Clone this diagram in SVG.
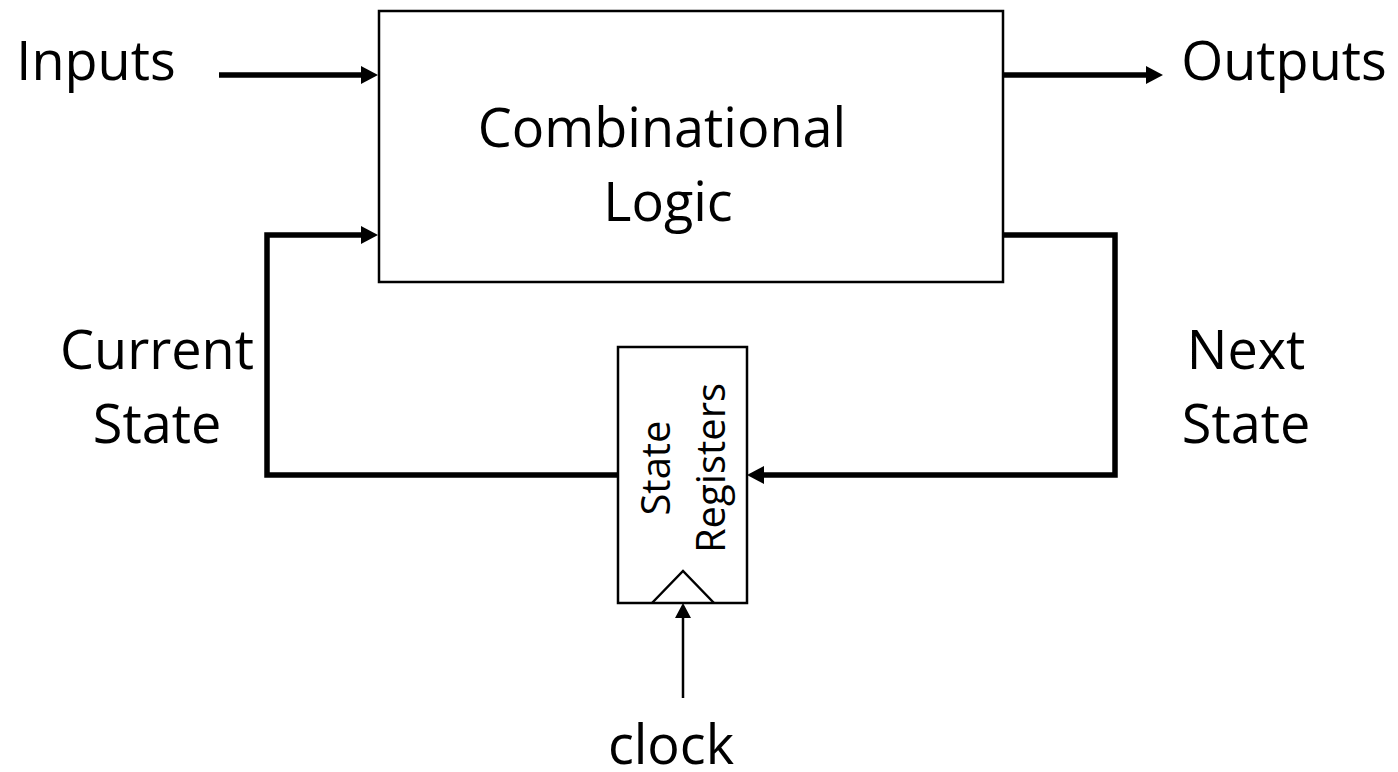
<svg xmlns="http://www.w3.org/2000/svg" width="1398" height="772" viewBox="0 0 1398 772">
  <style>
    .label { font-family: "Open Sans", "Noto Sans", "Liberation Sans", sans-serif; font-size: 54px; fill: #000; text-anchor: middle; }
    .small { font-size: 40px; }
    .box { fill: #fff; stroke: #000; stroke-width: 2.5; }
    .wire { fill: none; stroke: #000; stroke-width: 5.5; stroke-linejoin: miter; }
    .thin { fill: none; stroke: #000; stroke-width: 2.5; }
  </style>
  <defs>
    <marker id="head" markerUnits="userSpaceOnUse" markerWidth="17" markerHeight="18" refX="0" refY="9" orient="auto" overflow="visible">
      <path d="M0,0 L17,9 L0,18 Z" fill="#000"/>
    </marker>
    <marker id="headSmall" markerUnits="userSpaceOnUse" markerWidth="15" markerHeight="16" refX="0" refY="8" orient="auto" overflow="visible">
      <path d="M0,0 L15,8 L0,16 Z" fill="#000"/>
    </marker>
  </defs>

  <rect width="1398" height="772" fill="#fff"/>

  <!-- combinational logic block -->
  <g id="comb-logic">
    <rect class="box" x="379" y="11" width="624" height="271"/>
    <text class="label" x="662" y="147">Combinational</text>
    <text class="label" x="668" y="221">Logic</text>
  </g>

  <!-- state register with clock input triangle -->
  <g id="state-registers">
    <rect class="box" x="618" y="347" width="129" height="256"/>
    <polyline class="thin" points="652,603 683,571 714,603"/>
    <text class="label small" transform="translate(670,468) rotate(-90)">State</text>
    <text class="label small" transform="translate(725,468) rotate(-90)">Registers</text>
  </g>

  <!-- signal labels -->
  <g id="inputs-label"><text class="label" x="96" y="80">Inputs</text></g>
  <g id="outputs-label"><text class="label" x="1284" y="80">Outputs</text></g>
  <g id="current-state-label">
    <text class="label" x="157" y="369">Current</text>
    <text class="label" x="157" y="443">State</text>
  </g>
  <g id="next-state-label">
    <text class="label" x="1246" y="369">Next</text>
    <text class="label" x="1246" y="443">State</text>
  </g>
  <g id="clock-label"><text class="label" x="671" y="764">clock</text></g>

  <!-- connectors -->
  <g id="connectors">
    <path class="wire" d="M219,75 L361,75" marker-end="url(#head)"/>
    <path class="wire" d="M1003,75 L1146,75" marker-end="url(#head)"/>
    <path class="wire" d="M618,475 L267,475 L267,235 L361,235" marker-end="url(#head)"/>
    <path class="wire" d="M1003,235 L1115,235 L1115,475 L764,475" marker-end="url(#head)"/>
    <path class="thin" d="M683,698 L683,618" marker-end="url(#headSmall)"/>
  </g>
</svg>
